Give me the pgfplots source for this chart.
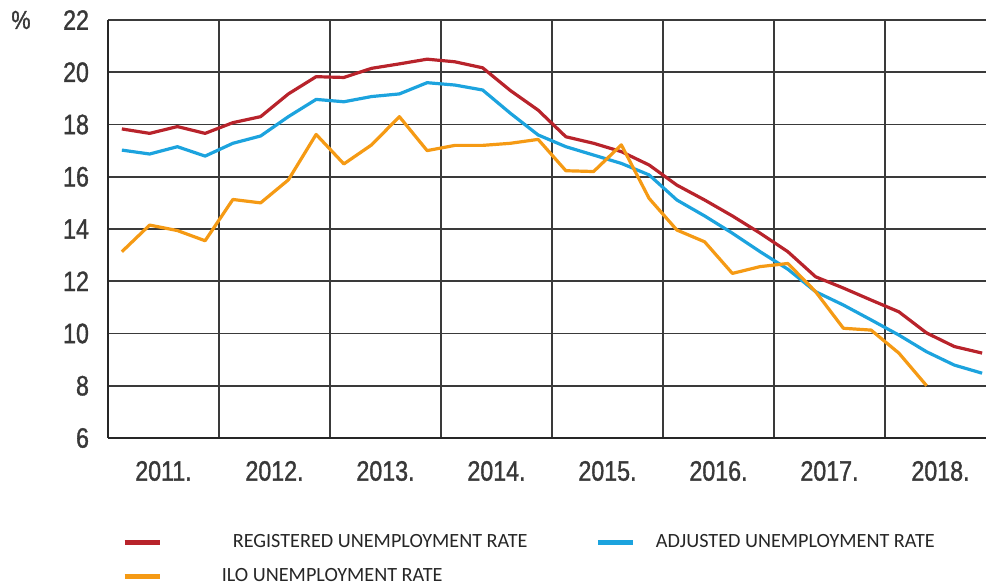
\documentclass[border=0pt]{standalone}
\usepackage{fontspec}
\usepackage{pgfplots}
\pgfplotsset{compat=1.18}
\setmainfont{Liberation Sans}
\newfontfamily\tickfont[FakeStretch=0.83,FakeBold=1.2]{Liberation Sans}
\newfontfamily\legfont{Carlito}
\definecolor{cred}{HTML}{B8232B}
\definecolor{cblue}{HTML}{1CA3DE}
\definecolor{corange}{HTML}{F59A14}
\definecolor{ctext}{HTML}{383838}
\definecolor{cgrid}{HTML}{3A3A3A}
\begin{document}
\begin{tikzpicture}
\begin{axis}[
  scale only axis,
  width=439pt, height=209pt,
  xmin=0, xmax=31.64, ymin=6, ymax=22,
  axis lines=left,
  axis line style={-, line width=1.4pt, color=black!85},
  ytick={6,8,...,22},
  xtick={2,6,...,30},
  xticklabels={2011.,2012.,2013.,2014.,2015.,2016.,2017.,2018.},
  minor xtick={4,8,...,28},
  xmajorgrids=false, xminorgrids=true, ymajorgrids=true,
  grid style={line width=0.9pt, color=cgrid},
  minor grid style={line width=0.9pt, color=cgrid},
  major tick length=0pt, minor tick length=0pt,
  /pgf/number format/assume math mode=true,
  ticklabel style={font=\tickfont\fontsize{14}{16}\selectfont, text=ctext},
  xticklabel style={yshift=-8pt},
  yticklabel style={xshift=-6pt},
  clip=false,
  legend columns=2,
  legend cell align=left,
  legend style={draw=none, fill=none, at={(rel axis cs:0,0)}, anchor=north west,
    xshift=4pt, yshift=-44pt,
    font=\legfont\fontsize{10.1}{12}\selectfont, text=black!85,
    row sep=5pt,
    /tikz/every even column/.append style={column sep=32pt}},
  legend image code/.code={\draw[#1, line width=2.2pt] (0pt,0pt) -- (17.5pt,0pt);},
]
\coordinate (bl) at (rel axis cs:0,0);
\addplot[cred, line width=1.6pt, line join=round] coordinates {
(0.5,17.83)(1.5,17.66)(2.5,17.92)(3.5,17.66)(4.5,18.07)(5.5,18.30)(6.5,19.17)(7.5,19.83)
(8.5,19.80)(9.5,20.15)(10.5,20.32)(11.5,20.50)(12.5,20.40)(13.5,20.17)(14.5,19.30)(15.5,18.55)
(16.5,17.53)(17.5,17.28)(18.5,16.96)(19.5,16.45)(20.5,15.68)(21.5,15.11)(22.5,14.50)(23.5,13.84)
(24.5,13.13)(25.5,12.17)(26.5,11.74)(27.5,11.28)(28.5,10.83)(29.5,10.02)(30.5,9.50)(31.5,9.25)
};
\addlegendentry{\hspace*{33.5pt}REGISTERED UNEMPLOYMENT RATE}
\addplot[cblue, line width=1.6pt, line join=round] coordinates {
(0.5,17.02)(1.5,16.87)(2.5,17.15)(3.5,16.79)(4.5,17.28)(5.5,17.56)(6.5,18.30)(7.5,18.96)
(8.5,18.87)(9.5,19.07)(10.5,19.17)(11.5,19.60)(12.5,19.51)(13.5,19.32)(14.5,18.43)(15.5,17.60)
(16.5,17.15)(17.5,16.83)(18.5,16.51)(19.5,16.07)(20.5,15.11)(21.5,14.50)(22.5,13.84)(23.5,13.13)
(24.5,12.46)(25.5,11.60)(26.5,11.09)(27.5,10.52)(28.5,9.94)(29.5,9.30)(30.5,8.79)(31.5,8.48)
};
\addlegendentry{\hspace*{8.5pt}ADJUSTED UNEMPLOYMENT RATE}
\addplot[corange, line width=1.6pt, line join=round] coordinates {
(0.5,13.13)(1.5,14.15)(2.5,13.94)(3.5,13.55)(4.5,15.13)(5.5,15.00)(6.5,15.88)(7.5,17.62)
(8.5,16.49)(9.5,17.22)(10.5,18.30)(11.5,17.00)(12.5,17.20)(13.5,17.20)(14.5,17.28)(15.5,17.43)
(16.5,16.23)(17.5,16.20)(18.5,17.22)(19.5,15.17)(20.5,13.96)(21.5,13.51)(22.5,12.30)(23.5,12.56)
(24.5,12.68)(25.5,11.60)(26.5,10.20)(27.5,10.13)(28.5,9.25)(29.5,8.00)
};
\addlegendentry{\hspace*{28pt}ILO UNEMPLOYMENT RATE}
\node[font=\tickfont\fontsize{13}{15}\selectfont, text=ctext] at (rel axis cs:0,1) [xshift=-43.5pt, yshift=0pt] {\%};
\end{axis}
\pgfresetboundingbox
\path[use as bounding box] ([shift={(-54pt,-74.5pt)}]bl) rectangle ([shift={(439pt,219pt)}]bl);
\end{tikzpicture}
\end{document}
